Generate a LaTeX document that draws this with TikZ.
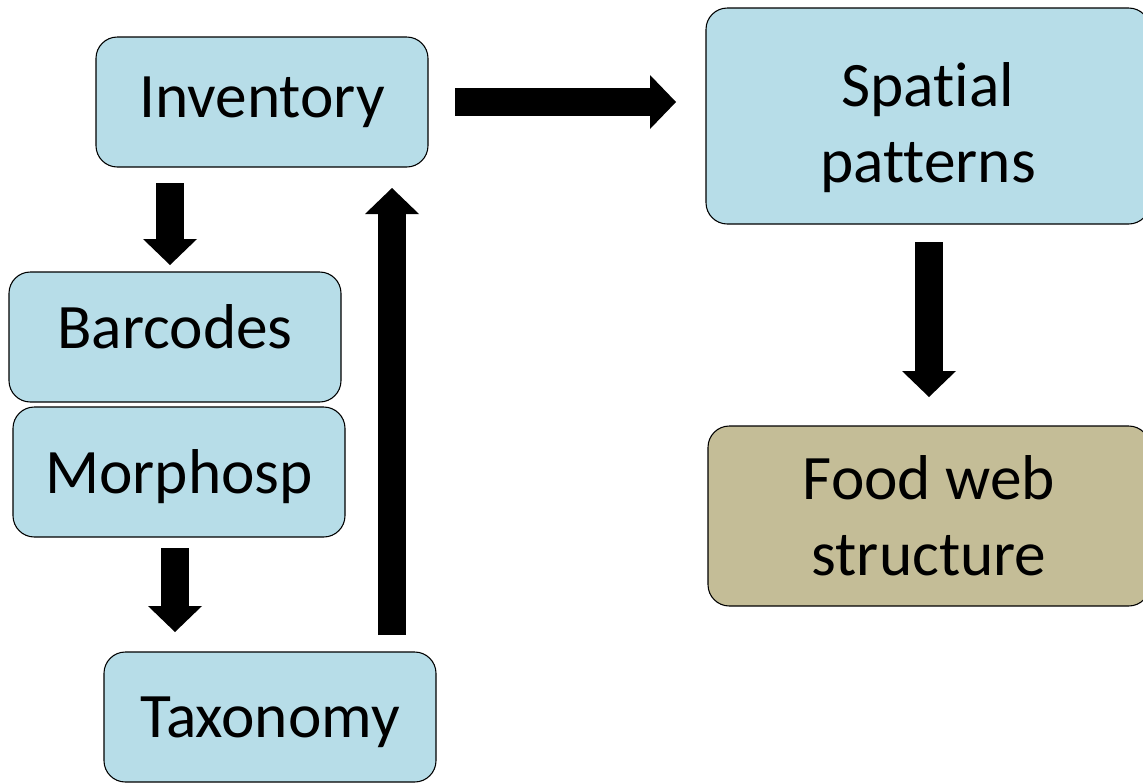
\documentclass[tikz,border=0pt]{standalone}
\usepackage{fontspec}
\setmainfont[Ligatures=NoCommon]{Carlito}
\usetikzlibrary{arrows.meta,positioning}
\definecolor{boxblue}{HTML}{B7DDE8}
\definecolor{boxtan}{HTML}{C4BD97}
\newcommand{\lowerby}[2]{\raisebox{-#1}[\height][\depth]{#2}}
\tikzset{>=stealth}
\tikzset{
  stage/.style={draw=black, line width=0.8pt, rounded corners=16pt, fill=boxblue,
    align=center, font=\fontsize{47.5}{57}\selectfont, inner sep=0pt},
  bigarrow/.style={line width=21pt, -{Triangle[length=19.5pt,width=40.5pt,line width'=0pt]}}
}

\begin{document}
\begin{tikzpicture}[x=0.75pt,y=-0.75pt]
    \useasboundingbox (0,0) rectangle (1143,783);
    \node[stage, minimum width=249pt, minimum height=97.5pt] (inv) at (262,102) {Inventory};
    \node[stage, minimum width=333pt, minimum height=162pt] (spat) at (928,116)
      {\lowerby{9pt}{Spatial}\\\lowerby{9pt}{patterns}};
    \node[stage, minimum width=249pt, minimum height=97.5pt] (bar) at (175,337) {\lowerby{-7.5pt}{Barcodes}};
    \node[stage, minimum width=249pt, minimum height=97.5pt] (mor) at (179,472) {\lowerby{3.5pt}{Morphosp}};
    \node[stage, minimum width=249pt, minimum height=97.5pt] (tax) at (270,717) {\lowerby{4pt}{Taxonomy}};
    \node[stage, fill=boxtan, minimum width=331.5pt, minimum height=135pt] (food) at (929,516) {Food web\\structure};

    \coordinate (a1) at (455,102);
    \coordinate (a2) at (676,102);
    \coordinate (b1) at (170,183);
    \coordinate (b2) at (170,265);
    \coordinate (c1) at (175,548);
    \coordinate (c2) at (175,632);
    \coordinate (d1) at (392,635);
    \coordinate (d2) at (392,188);
    \coordinate (e1) at (929,242);
    \coordinate (e2) at (929,397);

    \draw[bigarrow] (a1) -- (a2);
    \draw[bigarrow] (b1) -- (b2);
    \draw[bigarrow] (c1) -- (c2);
    \draw[bigarrow] (d1) -- (d2);
    \draw[bigarrow] (e1) -- (e2);
\end{tikzpicture}
\end{document}
